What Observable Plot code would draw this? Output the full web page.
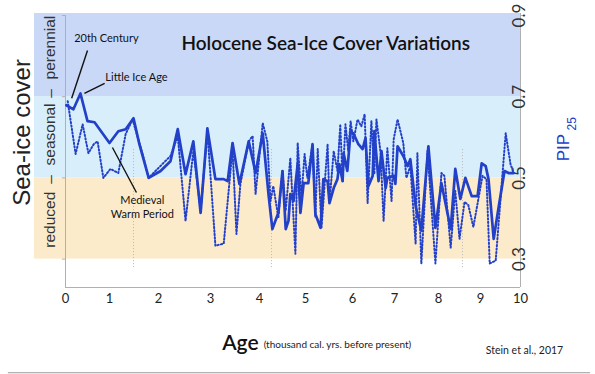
<!DOCTYPE html>
<html><head><meta charset="utf-8">
<script src="https://cdn.jsdelivr.net/npm/d3@7"></script>
<script src="https://cdn.jsdelivr.net/npm/@observablehq/plot@0.6"></script>
<style>html,body{margin:0;padding:0;background:#fff;}</style>
</head><body><div id="chart"></div>
<script>
// ---- data ----
const xTickValues = [0,1,2,3,4,5,6,7,8,9,10];
const yTickValues = [0.3,0.5,0.7,0.9];
const zoneLow = [0.3,0.5,0.7];
const zoneHigh = [0.5,0.7,0.905];
const zoneColors = ["#fcebcb","#d8effb","#c9d8f7"];
const zoneNames = ["reduced","seasonal","perennial"];
const zoneNameY = [0.397,0.607,0.821];
const zoneDashY = [0.496,0.708];
const solidAge = [0.02,0.18,0.34,0.50,0.66,0.84,1.00,1.18,1.33,1.49,1.61,1.80,2.04,2.23,2.37,2.52,2.67,2.81,2.94,3.10,3.27,3.35,3.45,3.59,3.78,3.92,4.07,4.20,4.28,4.41,4.50,4.57,4.63,4.67,4.74,4.83,4.89,4.96,5.06,5.15,5.21,5.32,5.38,5.47,5.51,5.60,5.68,5.72,5.79,5.81,5.89,5.96,6.02,6.14,6.24,6.31,6.38,6.48,6.52,6.62,6.69,6.79,6.83,6.98,7.02,7.07,7.20,7.30,7.36,7.48,7.61,7.77,7.93,8.07,8.29,8.40,8.52,8.64,8.79,8.93,9.03,9.13,9.20,9.33,9.45,9.60,9.70,9.83];
const solidPIP = [0.679,0.669,0.708,0.640,0.637,0.610,0.586,0.615,0.620,0.647,0.583,0.500,0.517,0.541,0.620,0.509,0.590,0.414,0.622,0.497,0.497,0.492,0.586,0.485,0.590,0.512,0.610,0.455,0.374,0.414,0.517,0.374,0.394,0.460,0.443,0.534,0.414,0.487,0.487,0.583,0.411,0.377,0.497,0.492,0.438,0.475,0.497,0.534,0.492,0.561,0.517,0.615,0.610,0.583,0.571,0.598,0.480,0.505,0.615,0.492,0.566,0.475,0.500,0.505,0.485,0.578,0.554,0.529,0.546,0.431,0.370,0.578,0.377,0.487,0.374,0.522,0.448,0.500,0.455,0.455,0.536,0.529,0.497,0.350,0.426,0.517,0.512,0.512];
const dottedAge = [0.05,0.23,0.39,0.52,0.64,0.73,0.86,1.02,1.18,1.33,1.47,1.67,1.80,1.98,2.23,2.37,2.52,2.67,2.81,2.94,3.10,3.27,3.45,3.53,3.61,3.78,3.86,3.92,4.07,4.17,4.24,4.30,4.41,4.50,4.57,4.67,4.78,4.83,4.91,4.98,5.04,5.15,5.21,5.26,5.34,5.47,5.51,5.60,5.68,5.74,5.79,5.85,5.91,5.96,6.02,6.12,6.21,6.29,6.36,6.45,6.52,6.57,6.67,6.74,6.83,6.93,6.98,7.07,7.20,7.27,7.36,7.48,7.52,7.61,7.75,7.93,8.07,8.14,8.29,8.40,8.50,8.62,8.71,8.83,9.05,9.15,9.23,9.38,9.63,9.75,9.83];
const dottedPIP = [0.689,0.559,0.632,0.561,0.583,0.590,0.500,0.522,0.512,0.608,0.644,0.561,0.500,0.522,0.554,0.603,0.394,0.566,0.419,0.615,0.333,0.338,0.571,0.362,0.485,0.590,0.603,0.460,0.635,0.590,0.443,0.480,0.402,0.517,0.419,0.549,0.313,0.586,0.451,0.559,0.500,0.583,0.402,0.571,0.377,0.583,0.438,0.566,0.517,0.632,0.492,0.632,0.566,0.640,0.590,0.644,0.627,0.657,0.438,0.640,0.509,0.644,0.561,0.394,0.573,0.443,0.595,0.644,0.586,0.500,0.529,0.338,0.561,0.289,0.566,0.289,0.512,0.505,0.328,0.468,0.350,0.441,0.433,0.379,0.505,0.497,0.289,0.296,0.610,0.534,0.512];
const markerAges = [1.49,4.26,8.57];

// ---- scale layout (x axis of the original is unevenly spaced) ----
const xDomain = [-0.7,0,1,2,3,4,5,6,7,8,9,10];
const xRange  = [34,65,109,158,210,259,305,352,394,438,480,520];

const solid = solidAge.map((a,i)=>({age:a, pip:solidPIP[i]}));
const dotted = dottedAge.map((a,i)=>({age:a, pip:dottedPIP[i]}));
const zones = zoneLow.map((l,i)=>({lo:l, hi:zoneHigh[i], c:zoneColors[i]}));
const zoneText = zoneNames.map((n,i)=>({n, y:zoneNameY[i]}));
const blue = "#2340c8";
const font = "Lato, 'Open Sans', sans-serif";
const arial = "'Liberation Sans', Arial, sans-serif";

const chart = Plot.plot({
  width: 595, height: 374,
  marginTop: 13, marginBottom: 87, marginLeft: 34, marginRight: 76,
  style: {fontFamily: font, background: "#fff", color: "#222"},
  x: {type: "linear", domain: xDomain, range: xRange},
  y: {type: "linear", domain: [0.23, 0.905]},
  marks: [
    Plot.rect(zones, {x1: -0.7, x2: 10, y1: "lo", y2: "hi", fill: "c"}),
    Plot.ruleX(markerAges, {y1: 0.279, y2: 0.572, stroke: "#b8b8b8", strokeWidth: 1, strokeDasharray: "1,2"}),
    Plot.ruleX([0], {y1: 0.23, y2: 0.9, stroke: "#b0b0b0"}),
    Plot.ruleX([10], {y1: 0.23, y2: 0.905, stroke: "#b0b0b0"}),
    Plot.ruleY([0.23], {x1: 0, x2: 10, stroke: "#b0b0b0"}),
    Plot.ruleY(yTickValues, {x1: -0.07, x2: 0, stroke: "#b0b0b0"}),
    Plot.axisX(xTickValues, {tickSize: 0, tickPadding: 6, fontSize: 13, label: null, tickFormat: d => String(d)}),
    Plot.axisY(yTickValues, {anchor: "right", tickSize: 4, tickPadding: 1, tickRotate: -90, fontSize: 17, label: null, stroke: "#b0b0b0", color: "#333"}),
    Plot.line(dotted, {x: "age", y: "pip", stroke: blue, strokeWidth: 2, strokeDasharray: "1.3,2.2"}),
    Plot.line(solid, {x: "age", y: "pip", stroke: blue, strokeWidth: 2.7, strokeLinejoin: "round"}),
    // annotation pointers
    Plot.link([{x1:0.50,y1:0.814,x2:0.14,y2:0.696},{x1:0.89,y1:0.733,x2:0.43,y2:0.708},{x1:1.06,y1:0.575,x2:1.55,y2:0.464}],
      {x1:"x1",y1:"y1",x2:"x2",y2:"y2", stroke:"#111", strokeWidth:1.4}),
    Plot.text(["20th Century"], {x: 0.93, y: 0.843, fontSize: 11, fill: "#111"}),
    Plot.text(["Little Ice Age"], {x: 1.55, y: 0.747, fontSize: 11, fill: "#111"}),
    Plot.text(["Medieval"], {x: 1.67, y: 0.444, fontSize: 11, fill: "#111"}),
    Plot.text(["Warm Period"], {x: 1.67, y: 0.41, fontSize: 11, fill: "#111"}),
    Plot.text(["Holocene Sea-Ice Cover Variations"], {x: 5.43, y: 0.831, fontSize: 19, fontWeight: 600, fill: "#111"}),
    // left labels
    Plot.text(["Sea-ice cover"], {x: -0.98, y: 0.612, rotate: -90, fontSize: 24, fill: "#222", fontFamily: arial}),
    Plot.text(zoneText, {x: -0.36, y: "y", text: "n", rotate: -90, fontSize: 15.5, fill: "#333", fontFamily: arial}),
    Plot.text(zoneDashY, {x: -0.36, y: d => d, text: () => "–", rotate: -90, fontSize: 15.5, fill: "#333", fontFamily: arial}),
    // right label
    Plot.text(["PIP"], {x: 11.07, y: 0.541, rotate: -90, textAnchor: "start", fontSize: 17, fill: blue, fontFamily: arial}),
    Plot.text(["25"], {x: 11.3, y: 0.617, rotate: -90, textAnchor: "start", fontSize: 12, fill: blue, fontFamily: arial}),
    // bottom labels
    Plot.text(["Age"], {x: 3.61, y: 0.092, fontSize: 21, fontWeight: 600, fill: "#111"}),
    Plot.text(["(thousand cal. yrs. before present)"], {x: 4.09, y: 0.09, textAnchor: "start", fontSize: 10, fill: "#222"}),
    Plot.text(["Stein et al., 2017"], {x: 10.1, y: 0.075, fontSize: 10.5, fill: "#222"}),
    Plot.ruleY([0.02], {x1: -1.29, x2: 11.75, stroke: "#999", strokeWidth: 1.2})
  ]
});
document.getElementById("chart").appendChild(chart);
</script>
</body></html>
